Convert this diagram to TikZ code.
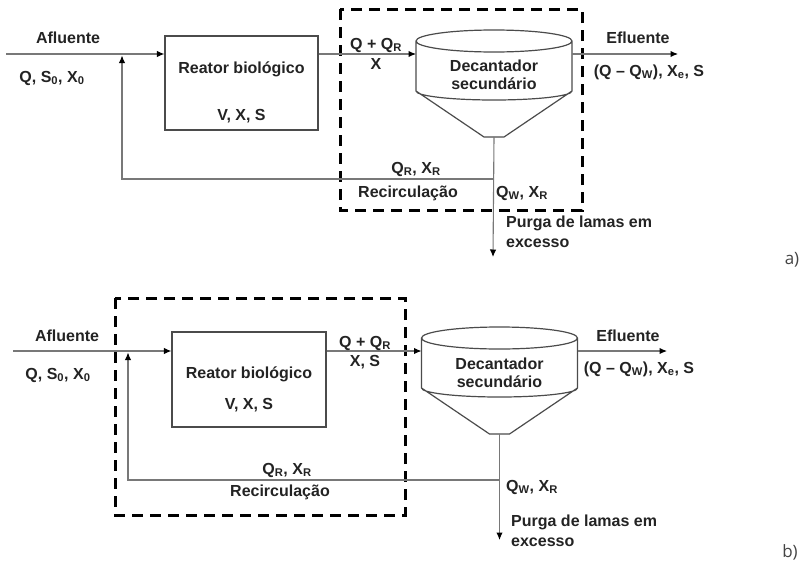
\documentclass[tikz,border=0pt]{standalone}
\usepackage{fontspec}
\setmainfont{Liberation Sans}
\newfontfamily\tagfont{Open Sans}
\usetikzlibrary{arrows.meta}

\definecolor{flow}{RGB}{120,120,120}
\definecolor{edge}{RGB}{75,75,75}
\definecolor{ink}{RGB}{35,35,35}

\newcommand\lo[1]{\textsubscript{#1}}

\tikzset{
  lbl/.style={font=\fontsize{16}{18}\selectfont\bfseries, text=ink,
    inner sep=0pt, text height=11.5pt, text depth=3pt},
  unitbox/.style={draw=edge, line width=1.3pt, fill=white, inner sep=0pt},
  flowline/.style={draw=flow, line width=1.1pt},
  arr/.style={-{Latex[length=7.5pt,width=6.5pt,color=black]}},
  boundary/.style={draw=black, line width=3pt, dash pattern=on 11pt off 7pt},
  casetag/.style={font=\tagfont\fontsize{17}{20}\selectfont, text=ink!85, inner sep=0pt},
  settler/.pic={
    \draw[draw=edge, line width=1.2pt]
      (0,0) ellipse [x radius=78, y radius=11]
      (-78,0) -- (-78,50)
      arc [start angle=180, end angle=0, x radius=78, y radius=9]
      -- (78,0)
      (-78,50) -- (-10,96) -- (10,96) -- (78,50);
    \coordinate (-in) at (-78,13);
    \coordinate (-east) at (78,13);
    \coordinate (-out) at (0,96);
  }
}

\begin{document}
\begin{tikzpicture}[x=1pt, y=-1pt]
\useasboundingbox (0,0) rectangle (808,565);

% ---------------- a) ----------------
\draw[boundary] (340,9) rectangle (582,210);

\node[unitbox, minimum width=153pt, minimum height=94pt] (rA) at (241.5,83) {};
\node[lbl] (rAt) at (241.5,69) {Reator biológico};
\node[lbl] (rAv) at (241.5,116) {V, X, S};

\pic (dA) at (494,41) {settler};
\node[lbl] (dAt) at (494,67) {Decantador};
\node[lbl] (dAs) at (494,85) {secundário};

\coordinate (inA) at (6,54);
\coordinate (jA) at (122,54);
\coordinate (cA) at (122,179);
\coordinate (tA) at (dA-out |- cA);
\coordinate (pA) at (493,257);
\coordinate (eA) at (678,54);

\draw[flowline, arr] (inA) -- (rA.west |- inA);
\draw[flowline, arr] (rA.east |- dA-in) -- (dA-in);
\draw[flowline, arr] (dA-east) -- (eA);
\draw[flowline, arr] (dA-out) -- (pA);
\draw[flowline, arr] (tA) -- (cA) -- ([yshift=-1.5pt]jA);

\node[lbl] (afA) at (68,39) {Afluente};
\node[lbl] (afqA) at (52,78) {Q, S\lo{0}, X\lo{0}};
\node[lbl] (qA) at (376,45) {Q + Q\lo{R}};
\node[lbl] (xA) at (376,65) {X};
\node[lbl] (efA) at (638,39) {Efluente};
\node[lbl] (efqA) at (649,72) {(Q – Q\lo{W}), X\lo{e}, S};
\node[lbl] (rcqA) at (416,169) {Q\lo{R}, X\lo{R}};
\node[lbl] (rcA) at (408,193) {Recirculação};
\node[lbl] (wqA) at (522,193) {Q\lo{W}, X\lo{R}};
\node[lbl, anchor=west] (pgA) at (506,223) {Purga de lamas em};
\node[lbl, anchor=west] (exA) at (506,243) {excesso};
\node[casetag] (tagA) at (792,260) {a)};

% ---------------- b) ----------------
\draw[boundary] (115,298) rectangle (405,515);

\node[unitbox, minimum width=154pt, minimum height=95pt] (rB) at (249,379.5) {};
\node[lbl] (rBt) at (249,374) {Reator biológico};
\node[lbl] (rBv) at (249,405) {V, X, S};

\pic (dB) at (499.5,338) {settler};
\node[lbl] (dBt) at (499.5,365) {Decantador};
\node[lbl] (dBs) at (499.5,383) {secundário};

\coordinate (inB) at (13,351);
\coordinate (jB) at (128,351);
\coordinate (cB) at (128,480);
\coordinate (tB) at (dB-out |- cB);
\coordinate (pB) at (499.5,540);
\coordinate (eB) at (667,351);

\draw[flowline, arr] (inB) -- (rB.west |- inB);
\draw[flowline, arr] (rB.east |- dB-in) -- (dB-in);
\draw[flowline, arr] (dB-east) -- (eB);
\draw[flowline, arr] (dB-out) -- (pB);
\draw[flowline, arr] (tB) -- (cB) -- ([yshift=-1.5pt]jB);

\node[lbl] (afB) at (67,337) {Afluente};
\node[lbl] (afqB) at (58,375) {Q, S\lo{0}, X\lo{0}};
\node[lbl] (qB) at (365,343) {Q + Q\lo{R}};
\node[lbl] (xB) at (365,362) {X, S};
\node[lbl] (efB) at (628,337) {Efluente};
\node[lbl] (efqB) at (639,369) {(Q – Q\lo{W}), X\lo{e}, S};
\node[lbl] (rcqB) at (287,470) {Q\lo{R}, X\lo{R}};
\node[lbl] (rcB) at (280,492) {Recirculação};
\node[lbl, anchor=west] (wqB) at (506,487) {Q\lo{W}, X\lo{R}};
\node[lbl, anchor=west] (pgB) at (511,522) {Purga de lamas em};
\node[lbl, anchor=west] (exB) at (511,542) {excesso};
\node[casetag] (tagB) at (790,552) {b)};
\end{tikzpicture}
\end{document}
